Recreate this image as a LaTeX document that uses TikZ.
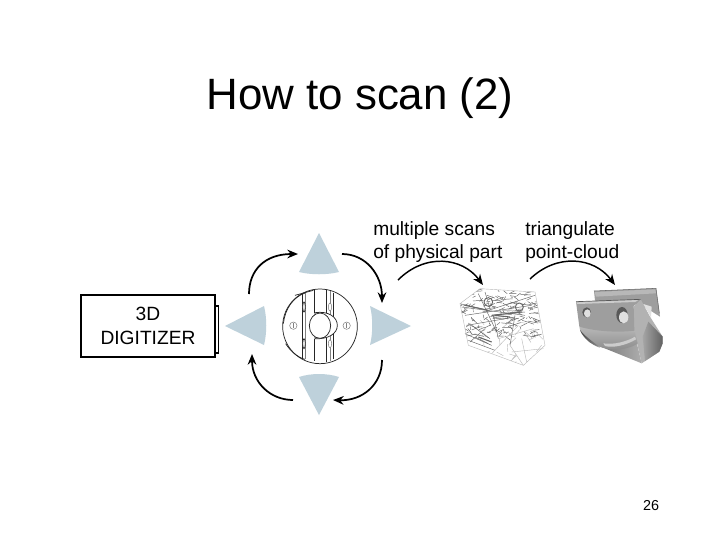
\documentclass[tikz,border=0pt]{standalone}
\usepackage{fontspec}
\setmainfont{Liberation Sans}
\usetikzlibrary{arrows.meta}
\definecolor{tri}{RGB}{190,209,219}
\tikzset{
  px/.style={x=0.75pt,y=-0.75pt},
  pad/.style={fill=tri,draw=none},
  sweep/.style={draw=black,line width=1.3pt,-{Stealth[length=8pt,width=6.5pt]}},
  label/.style={inner sep=0pt,align=left,anchor=west,font=\fontsize{14.4pt}{17.3pt}\selectfont},
  part/.style={draw=black!85,line width=0.55pt},
  partfine/.style={draw=black!50,line width=0.4pt},
  wire/.style={draw=black!60,line width=0.35pt},
  wirefine/.style={draw=black!28,line width=0.3pt}
}
\begin{document}
\begin{tikzpicture}[px]
\useasboundingbox (0,0) rectangle (720,540);
\fill[white] (0,0) rectangle (720,540);
\node[inner sep=0pt,font=\fontsize{32.9pt}{40pt}\selectfont] (title) at (360,98) {How to scan (2)};
\node[inner sep=0pt,font=\fontsize{10.8pt}{13pt}\selectfont] (page) at (651,506) {26};

% digitizer
\draw[line width=1.3pt] (215,306) -- (218.5,306) -- (218.5,353) -- (215,353);
\node[draw=black,line width=1.6pt,minimum width=100.5pt,minimum height=46.5pt,inner sep=0pt,align=center,
      font=\fontsize{14.4pt}{17.8pt}\selectfont] (dig) at (148,326) {3D\\DIGITIZER};

% pads
\path[pad] (319,233) -- (339,272) .. controls (327,275) and (311,275) .. (299,272) -- cycle;
\path[pad] (319,415) -- (339,377) .. controls (327,373) and (311,373) .. (299,377) -- cycle;
\path[pad] (411,326) -- (370,345) .. controls (373,333) and (373,318) .. (370,306) -- cycle;
\path[pad] (225,326) -- (264,345) .. controls (267,333) and (267,318) .. (264,306) -- cycle;

% sweep arrows
\coordinate (a1) at (249,294); \coordinate (a2) at (298,254);
\coordinate (b1) at (342,254); \coordinate (b2) at (382,303);
\coordinate (c1) at (382,360); \coordinate (c2) at (333,400);
\coordinate (d1) at (293,400); \coordinate (d2) at (252,354);
\draw[sweep] (a1) .. controls (249,270) and (265,254) .. (a2);
\draw[sweep] (b1) .. controls (366,254) and (382,275) .. (b2);
\draw[sweep] (c1) .. controls (382,385) and (362,401) .. (c2);
\draw[sweep] (d1) .. controls (270,400) and (252,382) .. (d2);

% disc
\begin{scope}[shift={(275,282)},x=0.25pt,y=-0.25pt]
\draw[part] (135,133) circle (112);
\draw[part] (25,125) .. controls (30,80) and (55,45) .. (90,33);
\draw[part] (32,185) .. controls (45,205) and (65,225) .. (90,232);
\draw[part] (60,40) -- (115,25);
\draw[part,line width=0.8pt] (82,35) -- (82,228);
\draw[partfine] (92,33) -- (92,232);
\draw[part] (118,25) -- (118,92);
\draw[part] (118,172) -- (118,238);
\draw[part] (155,25) -- (155,240);
\draw[partfine] (165,28) -- (165,238);
\draw[part] (175,32) -- (175,232);
\draw[part,fill=white] (120,92) .. controls (160,86) and (187,105) .. (187,130) .. controls (187,155) and (160,172) .. (120,170) -- cycle;
\draw[part,fill=white] (135,131) circle (32 and 38);
\foreach \y in {75,185}{
  \draw[part,fill=white] (87,\y) ellipse (4 and 15);
  \draw[partfine,fill=white] (165,\y) ellipse (5 and 12);
}
\foreach \x in {55,215}{
  \draw[partfine,fill=white] (\x,131) circle (11);
  \draw[partfine] (\x,123) -- (\x,139);
}
\end{scope}

% labels
\node[label] (lab1) at (373,242) {multiple scans\\of physical part};
\node[label] (lab2) at (525,242) {triangulate\\point-cloud};

% arcs to the parts
\coordinate (e1) at (398,280); \coordinate (e2) at (483,285);
\coordinate (f1) at (530,279); \coordinate (f2) at (615,285);
\draw[sweep,line width=1.1pt] (e1) .. controls (425,253) and (462,257) .. (e2);
\draw[sweep,line width=1.1pt] (f1) .. controls (557,253) and (594,257) .. (f2);

% point cloud
\begin{scope}[shift={(455,282)},x=0.25pt,y=-0.25pt]
\begin{scope}
\clip (15,65) -- (75,20) -- (240,30) -- (270,190) -- (205,250) -- (110,215) -- (40,190) -- cycle;
\pgfmathsetseed{4217}
\foreach \i in {1,...,170}{
  \pgfmathsetmacro{\xa}{15+rnd*240}
  \pgfmathsetmacro{\ya}{25+rnd*140}
  \pgfmathsetmacro{\xb}{\xa+60*(rnd-0.4)}
  \pgfmathsetmacro{\yb}{\ya+24*(rnd-0.5)}
  \draw[wire] (\xa,\ya) -- (\xb,\yb);
}
\foreach \i in {1,...,45}{
  \pgfmathsetmacro{\xa}{30+rnd*240}
  \pgfmathsetmacro{\ya}{100+rnd*150}
  \pgfmathsetmacro{\xb}{\xa+50*(rnd-0.5)}
  \pgfmathsetmacro{\yb}{\ya+50*(rnd-0.5)}
  \draw[wirefine] (\xa,\ya) -- (\xb,\yb);
}
\end{scope}
\foreach \a/\b/\c/\d in {
 15/65/100/85, 100/85/240/40, 20/75/210/100, 30/100/230/70, 70/35/125/150, 90/30/105/80,
 35/130/180/105, 110/100/210/90, 115/100/130/170, 180/100/165/190,
 30/155/110/190, 40/175/120/205, 50/130/105/170, 60/165/100/185, 45/180/90/140}{
  \draw[wire] (\a,\b) -- (\c,\d);
}
\foreach \a/\b/\c/\d in {
 15/65/75/20, 75/20/240/30, 15/65/40/190, 40/190/110/215,
 240/30/270/190, 270/190/205/250, 205/250/110/215, 165/190/205/250, 130/170/235/140,
 110/215/190/130, 200/170/215/240, 170/210/265/200}{
  \draw[wirefine] (\a,\b) -- (\c,\d);
}
\draw[wire,line width=0.7pt] (100,60) circle (13);
\draw[wire,line width=0.7pt] (193,75) circle (12);
\draw[wire,line width=0.8pt] (30,70) -- (100,85) (110,100) -- (200,90);
\draw[wire,line width=0.8pt] (70,165) -- (110,180) (120,100) -- (165,105);
\end{scope}

% solid model
\begin{scope}[shift={(570,280)},x=0.25pt,y=-0.25pt]
\fill[black!38] (72,33) -- (258,25) -- (270,110) -- (215,75) -- (75,62) -- cycle;
\fill[black!28] (74,36) -- (256,28) -- (258,40) -- (78,50) -- cycle;
\draw[black!60,line width=0.4pt] (72,33) -- (258,25) -- (268,100);
% right block
\fill[black!30] (212,58) -- (240,110) -- (278,170) -- (278,190) -- (268,215) -- (215,250) -- (192,150) -- (190,80) -- cycle;
\shade[left color=black!35,right color=black!62] (235,125) -- (278,170) -- (278,190) -- (268,215) -- (225,243) -- (218,170) -- cycle;
\fill[black!12] (220,72) -- (243,112) -- (245,80) -- cycle;
% wedge under the body
\shade[left color=black!58,right color=black!32] (55,185) -- (130,205) -- (200,188) -- (215,250) -- cycle;
% round body
\shade[top color=black!28,bottom color=black!45] (28,140) .. controls (30,170) and (70,205) .. (130,208) .. controls (160,210) and (190,200) .. (203,190) -- (193,150) -- cycle;
\shade[left color=black!75,right color=black!45,opacity=0.9] (30,150) .. controls (40,175) and (65,195) .. (90,203) .. controls (70,185) and (45,170) .. (30,150) -- cycle;
\fill[black!20] (100,190) .. controls (130,195) and (170,185) .. (195,170) -- (198,178) .. controls (170,195) and (130,205) .. (105,198) -- cycle;
% front plate
\fill[black!38] (18,65) -- (212,58) -- (191,78) -- (193,152) .. controls (130,160) and (60,150) .. (28,140) -- cycle;
\draw[black!65,line width=0.5pt] (18,65) -- (212,58);
\fill[black!20] (19,67) -- (205,60) -- (196,66) -- (22,72) -- cycle;
% holes
\fill[black!65] (50,97) ellipse (13 and 15);
\fill[black!12] (52,100) ellipse (10 and 12);
\fill[black!65] (156,105) ellipse (17 and 24);
\fill[black!12] (161,112) ellipse (14 and 18);
\end{scope}
\end{tikzpicture}
\end{document}
